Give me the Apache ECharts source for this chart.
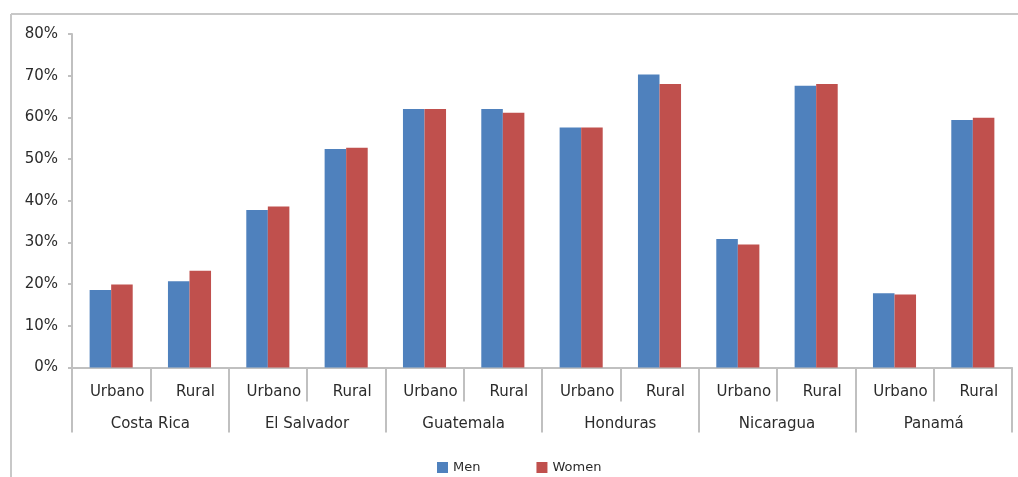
<!DOCTYPE html>
<html>
<head>
<meta charset="utf-8">
<script src="https://cdn.jsdelivr.net/npm/echarts@6/dist/echarts.min.js"></script>
<style>
  html, body { margin: 0; padding: 0; background: #fff; }
  #chart { width: 1018px; height: 477px; }
</style>
</head>
<body>
<div id="chart"></div>
<script>
// Share of population (%), by country and area
const countries = ['Costa Rica', 'El Salvador', 'Guatemala', 'Honduras', 'Nicaragua', 'Panamá'];
const areas = ['Urbano', 'Rural'];
const men   = [18.6, 20.7, 37.8, 52.4, 62.0, 62.0, 57.6, 70.3, 30.8, 67.6, 17.8, 59.4];
const women = [19.9, 23.2, 38.6, 52.7, 62.0, 61.1, 57.6, 68.0, 29.5, 68.0, 17.5, 59.9];
const yTicks = [0, 10, 20, 30, 40, 50, 60, 70, 80];

// one x slot per country/area pair
const slots = [];
countries.forEach(() => areas.forEach(a => slots.push(a)));

const font = 'DejaVu Sans, Liberation Sans, Arial, sans-serif';
const axisGray = '#c0c0c0';
const textColor = '#2b2b2b';

const chart = echarts.init(document.getElementById('chart'));
chart.setOption({
  animation: false,
  backgroundColor: '#fff',
  grid: { left: 72, right: 6, top: 34, bottom: 109.5, containLabel: false },
  graphic: [
    { type: 'line', shape: { x1: 11, y1: 14, x2: 1018, y2: 14 }, style: { stroke: '#c8c8c8', lineWidth: 2 } },
    { type: 'line', shape: { x1: 11, y1: 14, x2: 11, y2: 477 }, style: { stroke: '#c8c8c8', lineWidth: 2 } }
  ],
  legend: {
    data: ['Men', 'Women'],
    left: 432,
    top: 456,
    icon: 'rect',
    itemWidth: 11,
    itemHeight: 11,
    itemGap: 56,
    textStyle: { fontFamily: font, fontSize: 13, color: textColor }
  },
  xAxis: [
    {
      type: 'category',
      data: slots,
      axisLine: { lineStyle: { color: axisGray, width: 2 } },
      axisTick: { show: true, interval: 0, length: 34, lineStyle: { color: axisGray, width: 2 } },
      axisLabel: {
        interval: 0, margin: 17, color: textColor,
        fontFamily: font, fontSize: 15, padding: [0, 0, 0, 12]
      }
    },
    {
      type: 'category',
      data: countries,
      position: 'bottom',
      axisLine: { show: false },
      axisTick: { show: true, interval: 0, length: 65, lineStyle: { color: axisGray, width: 2 } },
      axisLabel: { interval: 0, margin: 49, color: textColor, fontFamily: font, fontSize: 15 }
    }
  ],
  yAxis: {
    type: 'value',
    min: yTicks[0],
    max: yTicks[yTicks.length - 1],
    interval: yTicks[1] - yTicks[0],
    splitLine: { show: false },
    axisLine: { show: true, lineStyle: { color: axisGray, width: 2 } },
    axisTick: { show: true, length: 4, lineStyle: { color: axisGray, width: 2 } },
    axisLabel: { formatter: '{value}%', margin: 14, color: textColor, fontFamily: font, fontSize: 15 }
  },
  series: [
    {
      name: 'Men', type: 'bar', xAxisIndex: 0, data: men,
      barGap: '0%', barCategoryGap: '45%',
      itemStyle: { color: '#4f81bd' }
    },
    {
      name: 'Women', type: 'bar', xAxisIndex: 0, data: women,
      barGap: '0%', barCategoryGap: '45%',
      itemStyle: { color: '#c0504d' }
    }
  ]
});
</script>
</body>
</html>
